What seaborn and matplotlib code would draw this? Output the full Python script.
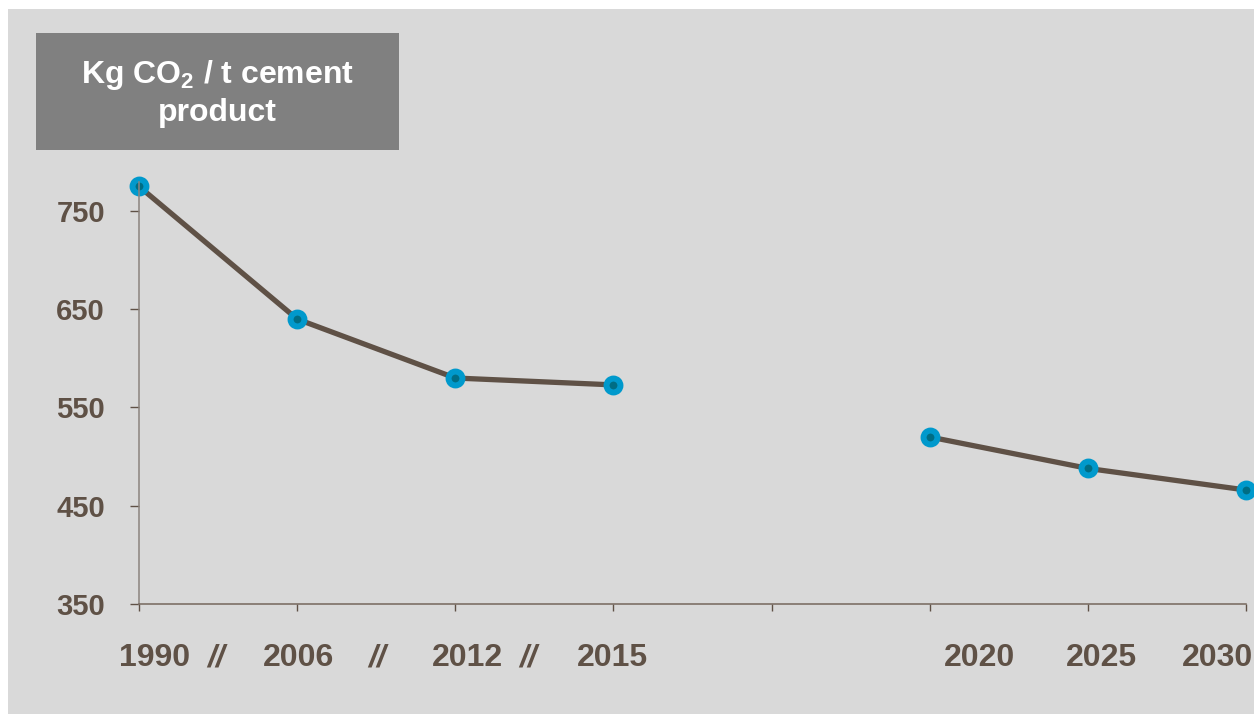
import numpy as np
import pandas as pd
import matplotlib
matplotlib.use("Agg")
import matplotlib.pyplot as plt
import matplotlib.transforms as mtransforms
from matplotlib.patches import Rectangle
import seaborn as sns

# ---------------- DATA ----------------
categories = ["1990", "2006", "2012", "2015", "", "2020", "2025", "2030"]
emissions = [775, 640, 580, 573, np.nan, 520, 488, 466]
segment = ["history", "history", "history", "history", None,
           "outlook", "outlook", "outlook"]
break_after = ["1990", "2006", "2012"]
y_ticks = [350, 450, 550, 650, 750]
box_label = "Kg CO$_2$ / t cement\nproduct"

# ---------------- STYLE ----------------
BG = "#d9d9d9"
BROWN = "#5f5146"
BLUE = "#0099cc"
DOT = "#006d84"

sns.set_style("white", {"axes.facecolor": BG})
plt.rcParams["font.family"] = ["Liberation Sans", "DejaVu Sans"]
plt.rcParams["mathtext.fontset"] = "custom"
plt.rcParams["mathtext.rm"] = "Liberation Sans:bold"
plt.rcParams["mathtext.default"] = "rm"

df = pd.DataFrame({"pos": range(len(categories)), "year": categories,
                   "value": emissions, "segment": segment}).dropna()

fig = plt.figure(figsize=(12.54, 7.14), dpi=100, facecolor="white")
# grey slide background, small white margin top/left
fig.patches.append(Rectangle((8 / 1254, 0), 1 - 8 / 1254, 1 - 9 / 714,
                             transform=fig.transFigure, facecolor=BG,
                             edgecolor="none", zorder=-10))

ax = fig.add_axes([139 / 1254, 1 - 604 / 714, (1246 - 139) / 1254, (604 - 181.5) / 714])
ax.set_facecolor(BG)

sns.lineplot(data=df, x="pos", y="value", units="segment", estimator=None,
             color=BROWN, linewidth=3.8, marker="o", markersize=10,
             markerfacecolor=DOT, markeredgecolor=BLUE, markeredgewidth=4.3,
             clip_on=False, ax=ax)

ax.set_xlim(0, len(categories) - 1)
ax.set_ylim(350, 780)
ax.set_xlabel("")
ax.set_ylabel("")

# axes / ticks
for s in ["top", "right"]:
    ax.spines[s].set_visible(False)
ax.spines["left"].set_color("#8c847e")
ax.spines["left"].set_linewidth(1.1)
ax.spines["bottom"].set_color("#75675d")
ax.spines["bottom"].set_linewidth(1.1)

ax.set_yticks(y_ticks)
ax.tick_params(axis="y", left=True, direction="out", length=6.5, width=1.0, color=BROWN,
               pad=18, labelsize=21, labelcolor=BROWN)
for lab in ax.get_yticklabels():
    lab.set_fontweight("bold")

ax.set_xticks(range(len(categories)))
ax.set_xticklabels([])
ax.tick_params(axis="x", bottom=True, direction="out", length=5, width=1.0, color=BROWN)

# category labels (hand placed like the slide)
label_shift = [16, 1, 12, -1, 0, 50, 14, -28]  # px
trans = mtransforms.blended_transform_factory(ax.transData, ax.transAxes)
for i, (cat, dx) in enumerate(zip(categories, label_shift)):
    if cat:
        ax.text(i + dx / 158, -0.128, cat, transform=trans, ha="center", va="center",
                fontsize=23, fontweight="bold", color=BROWN, clip_on=False)

break_shift = [-2, 1, -6]  # px
for cat, dx in zip(break_after, break_shift):
    i = categories.index(cat)
    ax.text(i + 0.5 + dx / 158, -0.128, "//", transform=trans, ha="center", va="center",
            fontsize=23, fontweight="bold", fontstyle="italic", color=BROWN, clip_on=False)

# unit box
fig.patches.append(Rectangle((36 / 1254, 1 - 150 / 714), (399 - 36) / 1254, (150 - 33) / 714,
                             transform=fig.transFigure, facecolor="#808080",
                             edgecolor="none", zorder=1))
fig.text(217.5 / 1254, 1 - 93 / 714, box_label, ha="center", va="center",
         fontsize=23, fontweight="bold", color="white", linespacing=1.3, zorder=2)

fig.savefig("out.png", dpi=100, facecolor=fig.get_facecolor())
